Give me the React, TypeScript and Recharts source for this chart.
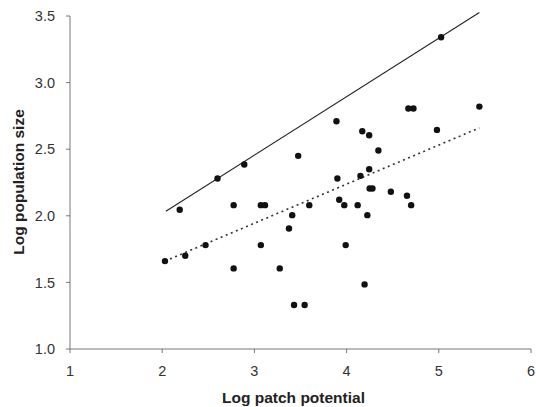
import React from 'react';
import { ScatterChart, Scatter, XAxis, YAxis, ReferenceLine, Label } from 'recharts';

// log patch potential (x) and log population size (y) for each patch
const potential = [2.03, 2.19, 2.25, 2.47, 2.6, 2.775, 2.775, 2.89, 3.07, 3.115, 3.07, 3.275, 3.375, 3.41, 3.43, 3.545, 3.475, 3.595, 3.89, 3.9, 3.92, 3.975, 3.99, 4.12, 4.15, 4.17, 4.195, 4.225, 4.245, 4.245, 4.25, 4.28, 4.345, 4.48, 4.655, 4.67, 4.725, 4.7, 4.98, 5.025, 5.44];
const popSize = [1.66, 2.045, 1.7, 1.78, 2.28, 2.08, 1.605, 2.385, 2.08, 2.08, 1.78, 1.605, 1.905, 2.005, 1.33, 1.33, 2.45, 2.08, 2.71, 2.28, 2.12, 2.08, 1.78, 2.08, 2.3, 2.635, 1.485, 2.005, 2.605, 2.35, 2.205, 2.205, 2.49, 2.18, 2.15, 2.805, 2.805, 2.08, 2.645, 3.34, 2.82];

// upper bound (solid) and regression (dotted) end points
const upperX = [2.04, 5.44];
const upperY = [2.034, 3.526];
const fitX = [2.03, 5.44];
const fitY = [1.66, 2.66];

const xTicks = [1, 2, 3, 4, 5, 6];
const yTicks = [1.0, 1.5, 2.0, 2.5, 3.0, 3.5];

const points = potential.map((x, i) => ({ x, y: popSize[i] }));

const FONT = '"Liberation Sans", Arial, sans-serif';

const YTitle = () => (
  <text
    x={18}
    y={182}
    transform="rotate(-90 18 182)"
    textAnchor="middle"
    dominantBaseline="central"
    fontFamily={FONT}
    fontSize={15.5}
    fontWeight="bold"
    fill="#222"
  >
    Log population size
  </text>
);

export default function App() {
  return (
    <div style={{ position: 'absolute', left: 0, top: 0, width: 536, height: 407, background: '#fff' }}>
      <ScatterChart width={536} height={407} margin={{ top: 16, right: 5, bottom: 0, left: 0 }}>
        <XAxis
          type="number"
          dataKey="x"
          domain={[1, 6]}
          ticks={xTicks}
          height={58}
          tickSize={4}
          tickMargin={13}
          stroke="#777"
          tick={{ fill: '#333', fontSize: 14.5, fontFamily: FONT }}
        >
          <Label
            value="Log patch potential"
            position="insideBottom"
            offset={4}
            dx={-7}
            style={{ fontFamily: FONT, fontSize: 15.5, fontWeight: 'bold', fill: '#222' }}
          />
        </XAxis>
        <YAxis
          type="number"
          dataKey="y"
          domain={[1, 3.5]}
          ticks={yTicks}
          width={70}
          tickSize={4}
          tickMargin={11}
          stroke="#777"
          tickFormatter={(v: number) => v.toFixed(1)}
          tick={{ fill: '#333', fontSize: 14.5, fontFamily: FONT }}
        >
          <Label content={<YTitle />} />
        </YAxis>
        <ReferenceLine
          segment={[{ x: upperX[0], y: upperY[0] }, { x: upperX[1], y: upperY[1] }]}
          stroke="#222"
          strokeWidth={1.1}
          ifOverflow="visible"
        />
        <ReferenceLine
          segment={[{ x: fitX[0], y: fitY[0] }, { x: fitX[1], y: fitY[1] }]}
          stroke="#333"
          strokeWidth={1.6}
          strokeDasharray="2 3.5"
          ifOverflow="visible"
        />
        <Scatter data={points} fill="#111" isAnimationActive={false} shape={(p: any) => <circle cx={p.cx} cy={p.cy} r={3.2} fill="#111" />} />
      </ScatterChart>
    </div>
  );
}
